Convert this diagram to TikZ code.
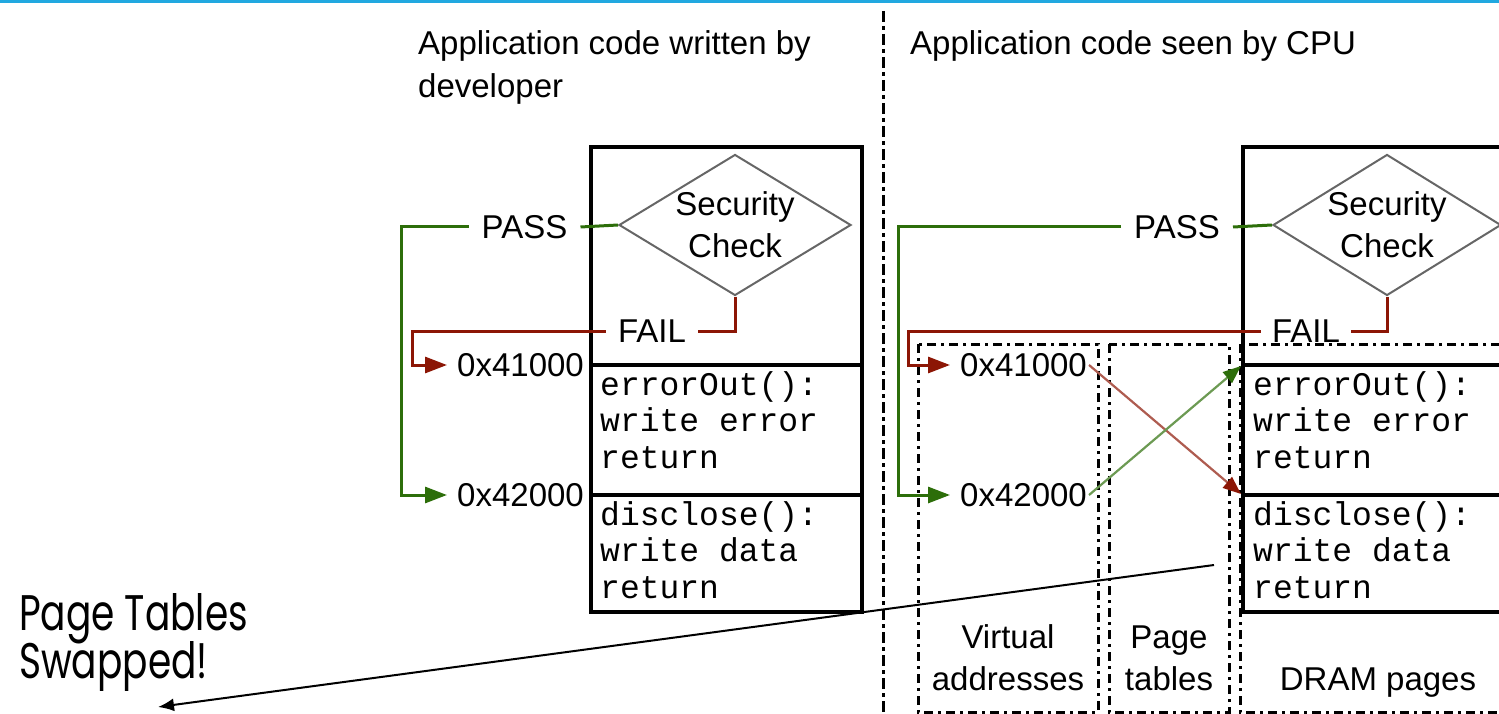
\documentclass[tikz,border=0pt]{standalone}
\usepackage{fontspec}
\setmainfont{Liberation Sans}
\newfontfamily\codefont{Liberation Mono}
\newfontfamily\notefont[FakeStretch=0.75]{Poppins}
\usetikzlibrary{shapes.geometric,arrows.meta}
\definecolor{pgreen}{RGB}{45,110,10}
\definecolor{pred}{RGB}{140,22,5}
\definecolor{topblue}{RGB}{33,168,224}
\begin{document}
\begin{tikzpicture}[x=1pt,y=-1pt,
  lbl/.style={font=\fontsize{33}{40}\selectfont, inner sep=0pt},
  ttl/.style={font=\fontsize{33}{40}\selectfont, inner sep=0pt, anchor=base west},
  codeln/.style={font=\codefont\fontsize{33}{40}\selectfont, anchor=base west, inner sep=0pt},
  addr/.style={font=\fontsize{33}{40}\selectfont, anchor=west, inner xsep=10pt, inner ysep=0pt},
  solidbox/.style={draw, line width=3.5pt},
  dd/.style={line width=3pt, dash pattern=on 9pt off 5pt on 3pt off 5pt},
  divider/.style={line width=3pt, dash pattern=on 11pt off 4pt on 4pt off 4pt},
  dia/.style={diamond, draw=black!60, line width=2pt, minimum width=232pt, minimum height=141pt,
     aspect=1.64, inner sep=0pt, align=center, font=\fontsize{33}{42}\selectfont},
  glink/.style={pgreen, line width=3pt},
  rlink/.style={pred, line width=3pt},
  garrow/.style={glink, -{Triangle[length=22pt,width=16pt]}},
  rarrow/.style={rlink, -{Triangle[length=22pt,width=16pt]}},
  xgreen/.style={pgreen!70, line width=2.2pt, -{Triangle[length=18pt,width=14pt,color=pgreen]}},
  xred/.style={pred!70, line width=2.2pt, -{Triangle[length=18pt,width=14pt,color=pred]}},
  note/.style={font=\notefont\fontsize{50}{58}\selectfont, inner sep=0pt, anchor=base west}
]
\path[clip] (0,0) rectangle (1499,714);
\fill[topblue] (0,0) rectangle (1499,3.5);

% divider
\draw[divider] (883,11) -- (883,714);

% titles
\node[ttl] (tl1) at (418,55) {Application code written by};
\node[ttl] (tl2) at (418,98) {developer};
\node[ttl] (tr1) at (910,55) {Application code seen by CPU};

% ---------------- left side ----------------
\draw[solidbox] (591,147) rectangle (862,612);
\draw[solidbox] (591,365) -- (862,365);
\draw[solidbox] (591,495) -- (862,495);

\node[dia] (diaL) at (735,225) {Security\\Check};
\node[lbl, inner xsep=13pt] (passL) at (524.5,227) {PASS};
\node[lbl, inner xsep=12pt] (failL) at (652,331) {FAIL};
\node[addr] (a41L) at (447,365) {0x41000};
\node[addr] (a42L) at (447,495) {0x42000};
\coordinate (gcL) at (401,227);
\coordinate (rcL) at (412,331);

\draw[glink] (diaL.west) -- (passL.east);
\draw[garrow] (passL.west) -- (gcL) |- (a42L.west);
\draw[rlink] (diaL.south) |- (failL.east);
\draw[rarrow] (failL.west) -- (rcL) |- (a41L.west);

\node[codeln] (cl1) at (600,395) {errorOut():};
\node[codeln] (cl2) at (600,431) {write error};
\node[codeln] (cl3) at (600,468) {return};
\node[codeln] (cl4) at (600,525) {disclose():};
\node[codeln] (cl5) at (600,561) {write data};
\node[codeln] (cl6) at (600,598) {return};

% ---------------- right side ----------------
\draw[dd] (918,344) rectangle (1098,712);
\draw[dd] (1109,344) rectangle (1229,712);
\draw[dd] (1240,344) rectangle (1530,712);

\draw[solidbox] (1243,147) rectangle (1530,612);
\draw[solidbox] (1243,365) -- (1530,365);
\draw[solidbox] (1243,495) -- (1530,495);

\node[dia, minimum width=228pt] (diaR) at (1387,225) {Security\\Check};
\node[lbl, inner xsep=13pt] (passR) at (1177,227) {PASS};
\node[lbl, inner xsep=11pt] (failR) at (1306,331) {FAIL};
\node[addr] (a41R) at (950,365) {0x41000};
\node[addr] (a42R) at (950,495) {0x42000};
\coordinate (gcR) at (898,227);
\coordinate (rcR) at (908,331);

\draw[glink] (diaR.west) -- (passR.east);
\draw[garrow] (passR.west) -- (gcR) |- (a42R.west);
\draw[rlink] (diaR.south) |- (failR.east);
\draw[rarrow] (failR.west) -- (rcR) |- (a41R.west);

\coordinate (pgErr) at (1241,366);
\coordinate (pgDis) at (1241,494);
\draw[xred] ([xshift=-8pt]a41R.east) -- (pgDis);
\draw[xgreen] ([xshift=-8pt]a42R.east) -- (pgErr);

\node[codeln] (cr1) at (1253,395) {errorOut():};
\node[codeln] (cr2) at (1253,431) {write error};
\node[codeln] (cr3) at (1253,468) {return};
\node[codeln] (cr4) at (1253,525) {disclose():};
\node[codeln] (cr5) at (1253,561) {write data};
\node[codeln] (cr6) at (1253,598) {return};

\node[lbl, anchor=base] (v1) at (1008,648) {Virtual};
\node[lbl, anchor=base] (v2) at (1008,690) {addresses};
\node[lbl, anchor=base] (p1) at (1169,648) {Page};
\node[lbl, anchor=base] (p2) at (1169,690) {tables};
\node[lbl, anchor=base] (d1) at (1378,690) {DRAM pages};

% ---------------- annotation ----------------
\node[note] (n1) at (19,630) {Page Tables};
\node[note] (n2) at (19,678) {Swapped!};
\coordinate (swapStart) at (1214,565);
\coordinate (swapEnd) at (158,707);
\draw[line width=2pt, -{Latex[length=16pt,width=13pt]}] (swapStart) -- (swapEnd);
\end{tikzpicture}
\end{document}
